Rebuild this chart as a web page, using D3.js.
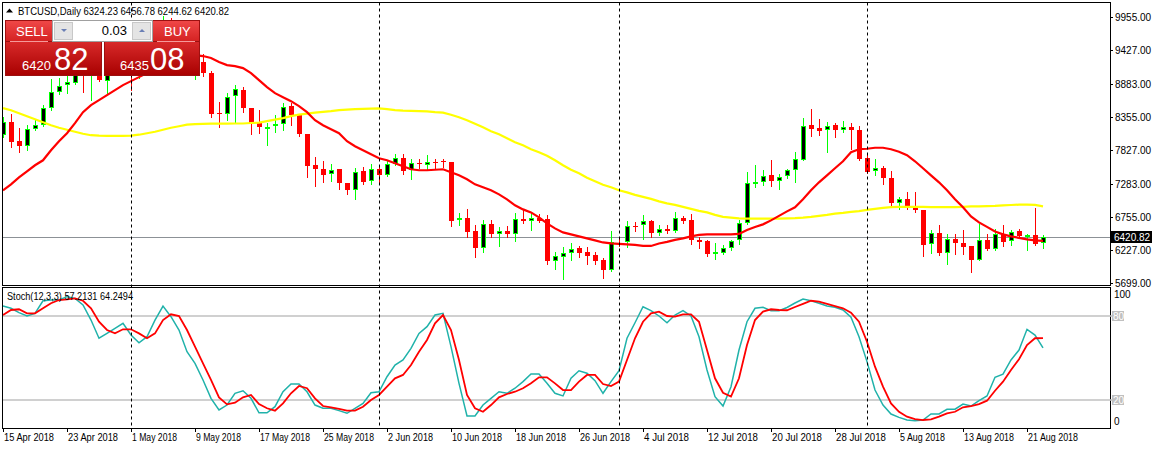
<!DOCTYPE html>
<html><head><meta charset="utf-8">
<script src="https://cdn.jsdelivr.net/npm/d3@7"></script>
<style>body{margin:0;background:#fff}svg{display:block}text{font-family:"Liberation Sans",Arial,sans-serif}</style>
</head><body><svg id="c" width="1153" height="449"></svg>
<script>
// ---------------- DATA ----------------
const symbolTitle = "BTCUSD,Daily 6324.23 6456.78 6244.62 6420.82";
const stochTitle = "Stoch(12,3,3) 57.2131 64.2494";
const firstDate = "2018-04-15";
const opens = [8060,8274,7968,7883,8167,8221,8489,8746,8863,8900,9620,9020,9270,8932,9340,9400,9240,9070,9220,9740,9690,9850,9650,9370,9190,9232,9064,8415,8408,8686,8783,8489,8274,8180,8200,8232,8526,8381,8087,7578,7525,7434,7514,7294,7188,7482,7321,7525,7429,7605,7702,7509,7618,7586,7634,7646,7626,6695,6738,6523,6256,6642,6481,6523,6481,6722,6684,6738,6711,6041,6105,6176,6256,6186,6133,6052,5903,6334,6342,6606,6615,6682,6497,6561,6518,6738,6695,6385,6362,6176,6173,6256,6374,6652,7305,7310,7418,7326,7401,7509,7670,8221,8168,8140,8221,8151,8184,8151,7691,7479,7541,7381,6979,7043,6899,6867,6309,6497,6176,6401,6337,6277,6064,6374,6240,6481,6358,6518,6449,6454,6324.23];
const highs = [8349,8397,8172,8221,8301,8542,8954,8975,9024,9730,9750,9300,9380,9430,9530,9460,9250,9240,9770,9760,9975,9940,9670,9470,9370,9361,9088,8595,8730,8863,8826,8494,8461,8248,8381,8569,8569,8408,8087,7711,7642,7605,7514,7294,7541,7551,7594,7589,7670,7766,7755,7686,7679,7739,7686,7686,7631,6812,6883,6615,6706,6695,6587,6598,6812,6867,6828,6791,6775,6186,6266,6330,6277,6266,6186,6096,6523,6427,6684,6663,6775,6695,6622,6622,6823,6759,6802,6427,6385,6330,6293,6385,6706,7471,7578,7498,7670,7445,7525,7792,8328,8478,8317,8264,8248,8290,8258,8205,7771,7686,7562,7487,7075,7149,7149,6867,6545,6615,6481,6481,6534,6277,6642,6470,6561,6615,6545,6561,6481,6892,6456.78];
const lows = [8028,7872,7792,7819,8151,8205,8462,8718,8735,8880,8755,8620,8930,8730,9180,9100,8790,8975,9140,9540,9690,9460,9170,9070,8960,9007,8354,8184,8301,8248,8434,8087,8097,7911,8113,8140,8221,8044,7390,7241,7310,7326,7204,7112,7043,7284,7284,7310,7401,7578,7438,7365,7530,7514,7530,7551,6598,6615,6427,6105,6186,6427,6277,6427,6362,6652,6545,6668,5999,5919,5759,6064,6105,5999,5999,5775,5881,6277,6272,6526,6401,6427,6454,6486,6502,6652,6309,6257,6117,6080,6160,6224,6309,6631,7230,7268,7241,7204,7381,7310,7658,8044,8060,7792,8033,8113,7846,7670,7450,7426,7273,6908,6883,6883,6828,6117,6170,6133,5999,6149,6149,5865,6053,6224,6213,6277,6293,6427,6224,6293,6244.62];
const closes = [8269,7952,7883,8167,8221,8489,8746,8852,8906,9640,9020,9260,8943,9340,9400,9240,9070,9220,9740,9690,9850,9650,9370,9190,9320,9064,8408,8400,8675,8794,8489,8258,8184,8196,8232,8514,8381,8087,7562,7525,7418,7509,7294,7177,7471,7310,7525,7429,7605,7702,7490,7615,7610,7638,7626,7638,6684,6738,6507,6256,6642,6481,6523,6481,6722,6679,6738,6684,6041,6117,6176,6240,6170,6122,6041,5903,6346,6321,6598,6598,6684,6491,6561,6518,6735,6684,6385,6346,6160,6186,6256,6369,6655,7297,7313,7406,7326,7390,7509,7686,8209,8156,8124,8209,8151,8184,8140,7686,7471,7541,7373,6973,7043,6904,6867,6293,6491,6170,6401,6337,6266,6064,6374,6240,6470,6346,6507,6438,6459,6309,6420.82];
const maFast = [7177,7273,7385,7482,7578,7658,7819,7964,8092,8253,8429,8542,8622,8702,8783,8863,8927,8991,9056,9120,9184,9248,9297,9329,9345,9329,9297,9232,9184,9168,9136,9056,8943,8831,8734,8670,8606,8526,8429,8301,8220,8156,8092,7964,7883,7819,7755,7691,7658,7610,7562,7514,7498,7498,7506,7514,7466,7417,7353,7273,7225,7177,7112,7032,6936,6871,6823,6743,6647,6566,6502,6470,6438,6406,6374,6341,6325,6317,6309,6301,6285,6285,6325,6350,6382,6406,6438,6462,6470,6470,6470,6470,6478,6542,6590,6631,6695,6767,6839,6904,7032,7177,7305,7417,7530,7642,7787,7835,7843,7859,7859,7835,7795,7739,7642,7530,7417,7305,7177,7032,6904,6759,6663,6590,6518,6470,6438,6414,6390,6374,6366];
const maSlow = [8494,8461,8413,8365,8317,8269,8220,8180,8148,8116,8084,8060,8052,8049,8049,8049,8052,8068,8092,8116,8148,8180,8204,8229,8237,8241,8245,8245,8245,8248,8248,8256,8261,8285,8309,8333,8365,8389,8405,8421,8434,8445,8461,8469,8477,8482,8487,8489,8477,8461,8453,8450,8445,8442,8429,8421,8389,8349,8301,8245,8188,8124,8076,8012,7947,7899,7835,7787,7731,7658,7578,7506,7450,7377,7321,7265,7225,7177,7144,7104,7072,7040,7000,6968,6944,6912,6879,6847,6823,6783,6751,6738,6727,6722,6722,6722,6722,6722,6727,6730,6738,6751,6767,6783,6802,6815,6831,6844,6863,6879,6896,6908,6912,6912,6912,6912,6908,6908,6908,6908,6912,6920,6920,6923,6928,6936,6941,6947,6947,6944,6920];
const stochK = [87.1,85.5,82.4,80,81.9,90.9,91.4,91.4,93.8,92.6,87.9,77.1,64.1,67.6,71.2,74.8,66.4,60.9,65.2,77.1,87.1,79.5,70,54.5,46.2,34.3,21.2,12.9,16.4,24.8,26.6,21.2,10.9,10.9,15.2,25.9,31.4,31.4,25.9,16.4,14.1,14.1,12.4,10.5,14.1,17.6,25.2,25.9,36.6,45,48.6,56.9,67.6,72.4,80.7,81.9,58.1,31.9,8.6,8.6,16.4,21.2,25.9,24.8,28.4,33.1,38.6,38.6,31.9,24.8,22.9,35.5,40.9,39.1,33.8,24.8,33.1,40.9,64.1,75.2,86.6,83.8,80,75.2,80.7,83.8,80,65.2,41.4,22.4,15.7,29.5,55.7,75.9,85.5,86.2,83.8,83.8,86.1,89.3,92.1,90.9,89.1,87.1,86.2,84.3,79.1,65.2,47.4,27.1,16.4,10,7.6,5.7,5.2,5.7,10,10,13.4,13.4,17.1,15.7,19.5,22.9,36.2,38.4,48.6,55.7,70.5,66.4,57.21];
const stochD = [80.7,84.3,84.8,81.9,81.9,85.5,89.1,91.4,91.9,92.6,90.9,85.5,75.9,70,67.6,70.5,70.5,67.6,64.1,67.6,77.1,81.2,80,70,58.1,46.2,34.3,21.9,16.9,18.1,21.9,23.6,17.1,14.1,12.4,17.6,24.8,30,28.4,21.2,15.7,14.8,13.6,12.4,12.4,15.2,20,23.6,29.5,35.5,37.9,45,54.5,62.9,74.8,80.7,70,48.6,23.6,14.1,11.6,16.4,21.9,24.3,25.9,28.4,31.9,36.2,36.2,31.9,27.1,27.1,33.1,37.9,37.9,31.4,30,33.1,48.6,64.1,75.9,81.9,83.1,80,79.5,81.2,81.2,75.9,55.7,35.5,25.2,22.4,35.5,59.3,77.1,83.1,84.8,84.3,84.1,86.4,88.6,90.9,90.2,88.6,87.1,85.5,82.4,75.9,61.6,43.8,29.5,17.6,11.6,8.1,6.4,5.7,6.2,8.1,10.5,11.6,14.8,15.7,17.1,19.5,26.6,33.1,41.4,49.1,59.3,64.1,64.25];
const priceTicks = [9955,9427,8883,8355,7827,7283,6755,6227,5699];
const xTickLabels = ["15 Apr 2018","23 Apr 2018","1 May 2018","9 May 2018","17 May 2018","25 May 2018","2 Jun 2018","10 Jun 2018","18 Jun 2018","26 Jun 2018","4 Jul 2018","12 Jul 2018","20 Jul 2018","28 Jul 2018","5 Aug 2018","13 Aug 2018","21 Aug 2018"];
const stochLevels = [80,20];
const stochAxisLabels = ["100","0"];
const lastPrice = 6420.82;
const sellPrice = ["6420","82"], buyPrice = ["6435","08"], lotSize = "0.03";

// ---------------- LAYOUT ----------------
const svg = d3.select("#c");
const L = 2.5, R = 1110, mainTop = 2.5, mainBot = 285, stTop = 287.5, stBot = 428;
const n = closes.length;
const parse = d3.utcParse("%Y-%m-%d");
const d0 = parse(firstDate);
const dates = d3.range(n).map(i => d3.utcDay.offset(d0, i));
const x = d3.scaleLinear().domain([0, n - 1]).range([3, 1043]);
const y = d3.scaleLinear().domain([5699, 9955]).range([282.5, 17]);
const ys = d3.scaleLinear().domain([0, 100]).range([428, 288]);
const cx = i => Math.round(x(i));

svg.append("rect").attr("width",1153).attr("height",449).attr("fill","#fff");
const defs = svg.append("defs");
defs.append("clipPath").attr("id","cm").append("rect").attr("x",L).attr("y",mainTop).attr("width",R-L).attr("height",mainBot-mainTop);
defs.append("clipPath").attr("id","cs").append("rect").attr("x",L).attr("y",stTop).attr("width",R-L).attr("height",stBot-stTop);

const gm = svg.append("g").attr("clip-path","url(#cm)");
const gs = svg.append("g").attr("clip-path","url(#cs)");

// bid line
gm.append("line").attr("x1",L).attr("x2",R).attr("y1",Math.round(y(lastPrice))+0.5).attr("y2",Math.round(y(lastPrice))+0.5)
  .attr("stroke","#8c9196").attr("stroke-width",1);

// candles
const cg = gm.append("g").attr("shape-rendering","crispEdges");
d3.range(n).forEach(i => {
  const up = closes[i] >= opens[i];
  const col = up ? "#00ff00" : "#ff0000";
  const c = cx(i);
  cg.append("line").attr("x1",c+0.5).attr("x2",c+0.5)
    .attr("y1",Math.round(y(highs[i]))).attr("y2",Math.round(y(lows[i]))+1)
    .attr("stroke",col).attr("stroke-width",1);
  const top = Math.round(y(Math.max(opens[i],closes[i])));
  const bot = Math.round(y(Math.min(opens[i],closes[i])));
  const h = Math.max(1, bot - top);
  if (up) {
    cg.append("rect").attr("x",c-1.5).attr("y",top+0.5).attr("width",4).attr("height",Math.max(1,h-1)+0)
      .attr("fill","#000").attr("stroke",col).attr("stroke-width",1);
  } else {
    cg.append("rect").attr("x",c-2).attr("y",top).attr("width",5).attr("height",h).attr("fill",col);
  }
});

// moving averages
const lineP = d3.line().x((d,i)=>x(i)).y(d=>y(d));
gm.append("path").datum(maSlow).attr("d",lineP).attr("fill","none").attr("stroke","#ffff00").attr("stroke-width",2.2);
gm.append("path").datum(maFast).attr("d",lineP).attr("fill","none").attr("stroke","#ff0000").attr("stroke-width",2.2);

// stochastic
gs.selectAll("line.lvl").data(stochLevels).enter().append("line").attr("class","lvl")
  .attr("x1",L).attr("x2",R).attr("y1",d=>ys(d)).attr("y2",d=>ys(d)).attr("stroke","#c0c0c0").attr("stroke-width",1.6);
const lineS = d3.line().x((d,i)=>x(i)).y(d=>ys(d));
gs.append("path").datum(stochK).attr("d",lineS).attr("fill","none").attr("stroke","#20b2aa").attr("stroke-width",1.5);
gs.append("path").datum(stochD).attr("d",lineS).attr("fill","none").attr("stroke","#ff0000").attr("stroke-width",1.8);

// period separators (month starts)
const monthIdx = d3.range(n).filter(i => dates[i].getUTCDate() === 1);
svg.append("g").selectAll("line").data(monthIdx).enter().append("line")
  .attr("x1",i=>cx(i)+0.5).attr("x2",i=>cx(i)+0.5).attr("y1",mainTop).attr("y2",stBot)
  .attr("stroke","#000").attr("stroke-width",1).attr("stroke-dasharray","3,3");

// frames
const fr = svg.append("g").attr("fill","none").attr("stroke","#000").attr("stroke-width",1).attr("shape-rendering","crispEdges");
fr.append("rect").attr("x",L).attr("y",mainTop).attr("width",R-L).attr("height",mainBot-mainTop);
fr.append("rect").attr("x",L).attr("y",stTop).attr("width",R-L).attr("height",stBot-stTop);

// price axis
const pa = svg.append("g");
priceTicks.forEach(p => {
  const yy = Math.round(y(p)) + 0.5;
  pa.append("line").attr("x1",R).attr("x2",R+3).attr("y1",yy).attr("y2",yy).attr("stroke","#000");
  pa.append("text").attr("x",R+5).attr("y",yy+3.5).attr("font-size",10).attr("fill","#000").text(p.toFixed(2));
});
// last price label
const ly = Math.round(y(lastPrice));
pa.append("rect").attr("x",R+1).attr("y",ly-6).attr("width",41).attr("height",12).attr("fill","#000");
pa.append("text").attr("x",R+4).attr("y",ly+4).attr("font-size",10).attr("fill","#fff").text(lastPrice.toFixed(2));

// stoch axis
pa.append("text").attr("x",R+4).attr("y",298).attr("font-size",10).attr("fill","#000").text(stochAxisLabels[0]);
pa.append("text").attr("x",R+4).attr("y",425).attr("font-size",10).attr("fill","#000").text(stochAxisLabels[1]);
stochLevels.forEach(v => {
  const yy = ys(v);
  pa.append("line").attr("x1",R).attr("x2",R+3).attr("y1",yy).attr("y2",yy).attr("stroke","#c0c0c0").attr("stroke-width",1.6);
  pa.append("rect").attr("x",R+2).attr("y",yy-5).attr("width",12).attr("height",10).attr("fill","#c0c0c0");
  pa.append("text").attr("x",R+3).attr("y",yy+3.5).attr("font-size",10).attr("fill","#fff").text(v);
});

// time axis
const xa = svg.append("g");
xTickLabels.forEach((t,k) => {
  const c = cx(k*8);
  xa.append("line").attr("x1",c+0.5).attr("x2",c+0.5).attr("y1",stBot).attr("y2",stBot+4).attr("stroke","#000");
  xa.append("text").attr("x",c+1).attr("y",441).attr("font-size",10).attr("fill","#000")
    .attr("textLength",t.length>10?50:45).attr("lengthAdjust","spacingAndGlyphs").text(t);
});

// titles
svg.append("path").attr("d","M6,12.5 L9.5,8.5 L13,12.5 Z").attr("fill","#000");
svg.append("text").attr("x",18).attr("y",14.5).attr("font-size",10.5).attr("fill","#000")
  .attr("textLength",211).attr("lengthAdjust","spacingAndGlyphs").text(symbolTitle);
svg.append("text").attr("x",7).attr("y",300).attr("font-size",10).attr("fill","#000")
  .attr("textLength",126).attr("lengthAdjust","spacingAndGlyphs").text(stochTitle);

// ---------------- TRADE PANEL ----------------
const g1 = defs.append("linearGradient").attr("id","gBtn").attr("x1",0).attr("x2",0).attr("y1",0).attr("y2",1);
g1.append("stop").attr("offset","0").attr("stop-color","#f04848");
g1.append("stop").attr("offset","1").attr("stop-color","#d42222");
const g2 = defs.append("linearGradient").attr("id","gBox").attr("x1",0).attr("x2",0).attr("y1",0).attr("y2",1);
g2.append("stop").attr("offset","0").attr("stop-color","#d82a2a");
g2.append("stop").attr("offset","1").attr("stop-color","#a80000");
const tp = svg.append("g").attr("shape-rendering","crispEdges");
// sell
tp.append("rect").attr("x",5.5).attr("y",20.5).attr("width",96).attr("height",21).attr("fill","url(#gBtn)").attr("stroke","#9c1010");
tp.append("rect").attr("x",5.5).attr("y",41.5).attr("width",96).attr("height",34).attr("fill","url(#gBox)").attr("stroke","#9c1010");
// buy
tp.append("rect").attr("x",104.5).attr("y",20.5).attr("width",95).attr("height",21).attr("fill","url(#gBtn)").attr("stroke","#9c1010");
tp.append("rect").attr("x",104.5).attr("y",41.5).attr("width",95).attr("height",34).attr("fill","url(#gBox)").attr("stroke","#9c1010");
tp.append("line").attr("x1",10).attr("x2",48).attr("y1",41.5).attr("y2",41.5).attr("stroke","#f59a9a");
tp.append("line").attr("x1",157).attr("x2",195).attr("y1",41.5).attr("y2",41.5).attr("stroke","#f59a9a");
// spinner
tp.append("rect").attr("x",52.5).attr("y",20.5).attr("width",100).attr("height",21).attr("fill","#fff").attr("stroke","#a0a0a0");
tp.append("rect").attr("x",54.5).attr("y",22.5).attr("width",18).attr("height",17).attr("fill","#e4e4e4").attr("stroke","#c8c8c8");
tp.append("rect").attr("x",132.5).attr("y",22.5).attr("width",18).attr("height",17).attr("fill","#e4e4e4").attr("stroke","#c8c8c8");
svg.append("path").attr("d","M61,29 L67,29 L64,32 Z").attr("fill","#6a7fb5");
svg.append("path").attr("d","M139,32 L145,32 L142,29 Z").attr("fill","#6a7fb5");
svg.append("text").attr("x",127).attr("y",35).attr("text-anchor","end").attr("font-size",13).attr("fill","#000").text(lotSize);
svg.append("text").attr("x",16).attr("y",35.5).attr("font-size",13).attr("fill","#fff").text("SELL");
svg.append("text").attr("x",164).attr("y",35.5).attr("font-size",13).attr("fill","#fff").text("BUY");
svg.append("text").attr("x",22).attr("y",70).attr("font-size",13).attr("fill","#fff").text(sellPrice[0]);
svg.append("text").attr("x",54).attr("y",70).attr("font-size",31).attr("fill","#fff").text(sellPrice[1]);
svg.append("text").attr("x",120).attr("y",70).attr("font-size",13).attr("fill","#fff").text(buyPrice[0]);
svg.append("text").attr("x",150).attr("y",70).attr("font-size",31).attr("fill","#fff").text(buyPrice[1]);
</script></body></html>
